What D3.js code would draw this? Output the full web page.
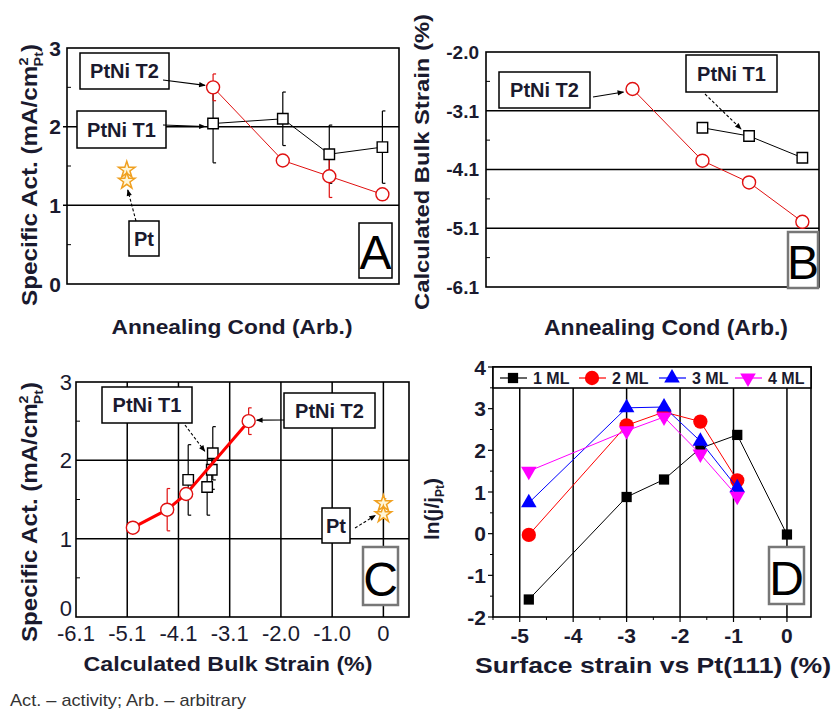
<!DOCTYPE html>
<html>
<head>
<meta charset="utf-8">
<script src="https://cdn.jsdelivr.net/npm/d3@7"></script>
<style>
  body { margin: 0; background: #fff; }
  svg { display: block; font-family: "Liberation Sans", Arial, sans-serif; }
</style>
</head>
<body>
<svg id="fig" width="835" height="711"></svg>
<script>
// ---- data ----
// panels A and B share the annealing-condition axis (arbitrary units)
const annealX = [4.4, 6.5, 7.9, 9.5];
const ptAnnealX = 1.8;
const actT1 = [2.04, 2.10, 1.65, 1.74];
const errT1 = [0.50, 0.34, 0.37, 0.46];
const actT2 = [2.50, 1.57, 1.37, 1.14];
const errT2 = [0.17, 0.00, 0.27, 0.00];
const actPt = [1.45, 1.31];

// panel B (bulk strain, %)
const strainT2 = [-2.73, -3.95, -4.32, -4.99];
const strainT1 = [-3.39, -3.53, -3.90];          // T1 at annealX[1..3]
const bTicks = [-6.1, -5.1, -4.1, -3.1, -2.1];
const bTickLabels = ['-6.1', '-5.1', '-4.1', '-3.1', '-2.0'];

// panel C
const cStrainT1 = [-3.43, -3.45, -3.54, -3.91];
const cActT1 = [2.09, 1.88, 1.66, 1.75];
const cErrT1 = [0.34, 0.25, 0.36, 0.45];
const cStrainPt = -0.1;
const cTicks = [-6.1, -5.1, -4.1, -3.1, -2.1, -1.1, -0.1];
const cTickLabels = ['-6.1', '-5.1', '-4.1', '-3.1', '-2.0', '-1.0', '0'];
const actTicks = [0, 1, 2, 3];

// panel D (surface strain vs ln(j/jPt))
const dStrain = [-4.83, -3.0, -2.3, -1.62, -0.93, 0];
const ml1 = [-1.58, 0.88, 1.30, 2.05, 2.37, -0.02];
const ml2 = [-0.03, 2.60, 2.92, 2.69, 1.28];
const ml3 = [0.74, 3.02, 3.04, 2.22, 1.10];
const ml4 = [1.50, 2.47, 2.80, 1.91, 0.90];
const mlNames = ['1 ML', '2 ML', '3 ML', '4 ML'];
const mlColors = ['#000', '#f00', '#00f', '#f0f'];
const mlSymbols = [d3.symbolSquare, d3.symbolCircle, d3.symbolTriangle, d3.symbolTriangle];
const dxTicks = [-5, -4, -3, -2, -1, 0];
const dyTicks = [-2, -1, 0, 1, 2, 3, 4];

const txt = '#1a1a2e';
const svg = d3.select('#fig');
const defs = svg.append('defs');
defs.append('marker').attr('id', 'arr').attr('viewBox', '0 0 10 10')
  .attr('refX', 9).attr('refY', 5).attr('markerWidth', 7).attr('markerHeight', 6)
  .attr('orient', 'auto')
  .append('path').attr('d', 'M0,1L10,5L0,9z').attr('fill', '#000');

function hline(g, y, x1, x2, w) {
  g.append('line').attr('x1', x1).attr('x2', x2).attr('y1', y).attr('y2', y)
    .attr('stroke', '#000').attr('stroke-width', w || 1.5);
}
function vline(g, x, y1, y2, w) {
  g.append('line').attr('x1', x).attr('x2', x).attr('y1', y1).attr('y2', y2)
    .attr('stroke', '#000').attr('stroke-width', w || 1.5);
}
function frame(g, b) {
  g.append('rect').attr('x', b.l).attr('y', b.t).attr('width', b.r - b.l).attr('height', b.b - b.t)
    .attr('fill', 'none').attr('stroke', '#000').attr('stroke-width', 1.6);
}
function yTicks(g, y, vals, labels, xr, size, weight, shift) {
  g.selectAll(null).data(vals).join('text')
    .attr('x', xr).attr('y', d => y(d) + (shift ? shift(d) : 0)).attr('dy', '0.36em').attr('text-anchor', 'end')
    .attr('fill', txt).style('font-size', size + 'px').style('font-weight', weight)
    .text((d, i) => labels[i]);
}
function minorY(g, y, vals, x0, len) {
  g.selectAll(null).data(vals).join('line')
    .attr('x1', x0).attr('x2', x0 + len).attr('y1', d => y(d)).attr('y2', d => y(d))
    .attr('stroke', '#000').attr('stroke-width', 1);
}
function errBars(g, xs, ys, es, x, y, color) {
  xs.forEach((v, i) => {
    if (!es[i]) return;
    const cx = x(v), y1 = y(ys[i] + es[i]), y2 = y(ys[i] - es[i]);
    g.append('line').attr('x1', cx).attr('x2', cx).attr('y1', y1).attr('y2', y2)
      .attr('stroke', color).attr('stroke-width', 1.2);
    [y1, y2].forEach(yy => g.append('line').attr('x1', cx).attr('x2', cx + 3).attr('y1', yy).attr('y2', yy)
      .attr('stroke', color).attr('stroke-width', 1.2));
  });
}
function series(g, xs, ys, x, y, color, w) {
  g.append('path').datum(xs.map((v, i) => [v, ys[i]]))
    .attr('d', d3.line().x(d => x(d[0])).y(d => y(d[1])))
    .attr('fill', 'none').attr('stroke', color).attr('stroke-width', w || 1);
}
function squares(g, xs, ys, x, y) {
  g.selectAll(null).data(xs.map((v, i) => [v, ys[i]])).join('path')
    .attr('transform', d => `translate(${x(d[0])},${y(d[1])})`)
    .attr('d', d3.symbol(d3.symbolSquare, 110))
    .attr('fill', '#fff').attr('stroke', '#000').attr('stroke-width', 1.4);
}
function circles(g, xs, ys, x, y) {
  g.selectAll(null).data(xs.map((v, i) => [v, ys[i]])).join('circle')
    .attr('cx', d => x(d[0])).attr('cy', d => y(d[1])).attr('r', 6.5)
    .attr('fill', '#fff').attr('stroke', '#e01010').attr('stroke-width', 1.4);
}
function stars(g, xv, ys, x, y) {
  g.selectAll(null).data(ys).join('path')
    .attr('transform', d => `translate(${x(xv)},${y(d)})`)
    .attr('d', d3.symbol(d3.symbolStar, 85))
    .attr('fill', '#fff6d8').attr('stroke', '#f0a020').attr('stroke-width', 1.5);
}
function labelBox(g, text, x0, y0, x1, y1, size) {
  g.append('rect').attr('x', x0).attr('y', y0).attr('width', x1 - x0).attr('height', y1 - y0)
    .attr('fill', '#fff').attr('stroke', '#000').attr('stroke-width', 1.5);
  g.append('text').attr('x', (x0 + x1) / 2).attr('y', (y0 + y1) / 2).attr('dy', '0.36em')
    .attr('text-anchor', 'middle').attr('fill', txt)
    .style('font-size', (size || 20) + 'px').style('font-weight', 'bold').text(text);
}
function letterBox(g, text, x0, y0, x1, y1, stroke) {
  g.append('rect').attr('x', x0).attr('y', y0).attr('width', x1 - x0).attr('height', y1 - y0)
    .attr('fill', '#fff').attr('stroke', stroke).attr('stroke-width', stroke === '#000' ? 1.5 : 2.5);
  g.append('text').attr('x', (x0 + x1) / 2).attr('y', y1 - 9)
    .attr('text-anchor', 'middle').attr('fill', '#000')
    .style('font-size', '48px').text(text);
}
function arrow(g, x1, y1, x2, y2, dash) {
  g.append('line').attr('x1', x1).attr('y1', y1).attr('x2', x2).attr('y2', y2)
    .attr('stroke', '#000').attr('stroke-width', 1.1)
    .attr('stroke-dasharray', dash ? '3,2' : null).attr('marker-end', 'url(#arr)');
}
function actLabel(g, cx, cy, len) {
  const t = g.append('text').attr('transform', `translate(${cx},${cy}) rotate(-90)`)
    .attr('text-anchor', 'middle').attr('fill', txt)
    .attr('textLength', len).attr('lengthAdjust', 'spacingAndGlyphs')
    .style('font-size', '22px').style('font-weight', 'bold');
  t.append('tspan').text('Specific Act. (mA/cm');
  t.append('tspan').attr('dy', -9).style('font-size', '13px').text('2');
  t.append('tspan').attr('dx', -8).attr('dy', 15).style('font-size', '13px').text('Pt');
  t.append('tspan').attr('dy', -6).text(')');
}
function xTitle(g, text, cx, y, size, len) {
  g.append('text').attr('x', cx).attr('y', y).attr('text-anchor', 'middle').attr('fill', txt)
    .attr('textLength', len).attr('lengthAdjust', 'spacingAndGlyphs')
    .style('font-size', size + 'px').style('font-weight', 'bold').text(text);
}

// ---------------- Panel A ----------------
{
  const b = {l: 67, r: 399, t: 48, b: 284};
  const g = svg.append('g');
  const x = d3.scaleLinear().domain([0, 10]).range([b.l, b.r]);
  const y = d3.scaleLinear().domain([0, 3]).range([b.b, b.t]);
  [1, 2].forEach(v => hline(g, y(v), b.l - 4, b.r, 1.5));
  minorY(g, y, [0.5, 1.5, 2.5], b.l, 4);
  frame(g, b);
  yTicks(g, y, actTicks, actTicks.map(String), 61, 21, 'bold');
  actLabel(g, 37, 175, 262);
  xTitle(g, 'Annealing Cond (Arb.)', 232, 334, 21, 241);

  errBars(g, annealX, actT1, errT1, x, y, '#000');
  errBars(g, annealX, actT2, errT2, x, y, '#e01010');
  series(g, annealX, actT1, x, y, '#000', 1);
  series(g, annealX, actT2, x, y, '#e01010', 1);
  squares(g, annealX, actT1, x, y);
  circles(g, annealX, actT2, x, y);
  stars(g, ptAnnealX, actPt, x, y);

  labelBox(g, 'PtNi T2', 80, 53, 169, 89);
  arrow(g, 163, 80, x(annealX[0]) - 8, y(actT2[0]) - 2);
  labelBox(g, 'PtNi T1', 77, 111, 166, 148);
  arrow(g, 163, 125, x(annealX[0]) - 8, y(actT1[0]) + 3);
  labelBox(g, 'Pt', 129, 221, 159, 256);
  arrow(g, 136, 221, x(ptAnnealX) + 1, y(actPt[1]) + 9, true);
  letterBox(g, 'A', 359, 223, 392, 278, '#000');
}

// ---------------- Panel B ----------------
{
  const b = {l: 486, r: 819, t: 52, b: 287};
  const g = svg.append('g');
  const x = d3.scaleLinear().domain([0, 10]).range([b.l, b.r]);
  const y = d3.scaleLinear().domain([-6.1, -2.1]).range([b.b, b.t]);
  [-5.1, -4.1, -3.1].forEach(v => hline(g, y(v), b.l, b.r, 1.5));
  minorY(g, y, [-5.6, -4.6, -3.6, -2.6], b.l, 4);
  frame(g, b);
  yTicks(g, y, bTicks, bTickLabels, 479, 19, 'bold');
  g.append('text').attr('transform', 'translate(429,162) rotate(-90)')
    .attr('text-anchor', 'middle').attr('fill', txt)
    .attr('textLength', 296).attr('lengthAdjust', 'spacingAndGlyphs')
    .style('font-size', '21px').style('font-weight', 'bold').text('Calculated Bulk Strain (%)');
  xTitle(g, 'Annealing Cond (Arb.)', 666, 335, 22, 244);

  const t1x = annealX.slice(1);
  series(g, t1x, strainT1, x, y, '#000', 1);
  series(g, annealX, strainT2, x, y, '#e01010', 1);
  squares(g, t1x, strainT1, x, y);
  circles(g, annealX, strainT2, x, y);

  labelBox(g, 'PtNi T2', 499, 72, 590, 108);
  arrow(g, 593, 97, x(annealX[0]) - 9, y(strainT2[0]) + 3);
  labelBox(g, 'PtNi T1', 686, 55, 777, 92);
  arrow(g, 705, 94, x(t1x[1]) - 8, y(strainT1[1]) - 7, true);
  letterBox(g, 'B', 788, 232, 818, 288, '#777');
}

// ---------------- Panel C ----------------
{
  const b = {l: 76, r: 409, t: 382, b: 617};
  const g = svg.append('g');
  const x = d3.scaleLinear().domain([-6.1, 0.4]).range([b.l, b.r]);
  const y = d3.scaleLinear().domain([0, 3]).range([b.b, b.t]);
  [1, 2].forEach(v => hline(g, y(v), b.l, b.r, 1.5));
  cTicks.slice(1).forEach(v => vline(g, x(v), b.t, b.b, 1.5));
  minorY(g, y, [0.5, 1.5, 2.5], b.l, 4);
  frame(g, b);
  yTicks(g, y, actTicks, actTicks.map(String), 72, 22, 'normal', d => d === 0 ? -9 : 0);
  g.selectAll(null).data(cTicks).join('text')
    .attr('x', d => x(d)).attr('y', 641).attr('text-anchor', 'middle').attr('fill', txt)
    .style('font-size', '22px').text((d, i) => cTickLabels[i]);
  actLabel(g, 37, 512, 260);
  xTitle(g, 'Calculated Bulk Strain (%)', 228, 671, 21, 289);

  errBars(g, cStrainT1, cActT1, cErrT1, x, y, '#000');
  squares(g, cStrainT1, cActT1, x, y);
  errBars(g, strainT2, actT2, errT2, x, y, '#e01010');
  series(g, strainT2, actT2, x, y, '#f00', 3);
  circles(g, strainT2, actT2, x, y);
  errBars(g, [cStrainPt], [actPt[0] - 0.06], [0.12], x, y, '#f0a020');
  stars(g, cStrainPt, actPt, x, y);

  labelBox(g, 'PtNi T1', 102, 387, 192, 423);
  arrow(g, 185, 425, x(cStrainT1[0]) - 8, y(cActT1[0]) - 2, true);
  labelBox(g, 'PtNi T2', 284, 393, 375, 428);
  arrow(g, 284, 420, x(strainT2[0]) + 8, y(actT2[0]) - 1);
  labelBox(g, 'Pt', 322, 508, 350, 543);
  arrow(g, 355, 528, x(cStrainPt) - 8, y(actPt[1]) + 1, true);
  letterBox(g, 'C', 363, 547, 398, 605, '#777');
}

// ---------------- Panel D ----------------
{
  const b = {l: 493, r: 811, t: 367, b: 617};
  const g = svg.append('g');
  const x = d3.scaleLinear().domain([-5.5, 0.45]).range([b.l, b.r]);
  const y = d3.scaleLinear().domain([-2, 4]).range([b.b, b.t]);
  dxTicks.forEach(v => vline(g, x(v), b.t, b.b, 1.5));
  // outward ticks
  dyTicks.forEach(v => hline(g, y(v), b.l - 5, b.l, 1.2));
  d3.range(-1.5, 4, 1).forEach(v => hline(g, y(v), b.l - 3, b.l, 1));
  dxTicks.forEach(v => vline(g, x(v), b.b, b.b + 5, 1.2));
  d3.range(-5.5, 0.5, 1).forEach(v => vline(g, x(v), b.b, b.b + 3, 1));
  frame(g, b);
  yTicks(g, y, dyTicks, dyTicks.map(String), 486, 21, 'bold');
  g.selectAll(null).data(dxTicks).join('text')
    .attr('x', d => x(d)).attr('y', 643).attr('text-anchor', 'middle').attr('fill', txt)
    .style('font-size', '21px').style('font-weight', 'bold').text(d => String(d));
  const yl = g.append('text').attr('transform', 'translate(439,509) rotate(-90)')
    .attr('text-anchor', 'middle').attr('fill', txt)
    .style('font-size', '21px').style('font-weight', 'bold');
  yl.append('tspan').text('ln(j/j');
  yl.append('tspan').attr('dy', 5).style('font-size', '12px').text('Pt');
  yl.append('tspan').attr('dy', -5).text(')');
  xTitle(g, 'Surface strain vs Pt(111) (%)', 653, 673, 22, 356);

  const sets = [ml1, ml2, ml3, ml4];
  sets.forEach((vals, k) => {
    const xs = dStrain.slice(0, vals.length);
    series(g, xs, vals, x, y, mlColors[k], 1);
    g.selectAll(null).data(xs.map((v, i) => [v, vals[i]])).join('path')
      .attr('transform', d => `translate(${x(d[0])},${y(d[1])})` + (k === 3 ? ' rotate(180)' : ''))
      .attr('d', d3.symbol(mlSymbols[k], k === 1 ? 160 : 105))
      .attr('fill', mlColors[k]);
  });

  // legend strip along the top of the frame
  g.append('rect').attr('x', b.l).attr('y', b.t).attr('width', b.r - b.l).attr('height', 21)
    .attr('fill', '#fff').attr('stroke', '#000').attr('stroke-width', 1.6);
  const legX = [513, 592, 672, 748];
  mlNames.forEach((name, k) => {
    const cx = legX[k], cy = 378;
    g.append('line').attr('x1', cx - 13).attr('x2', cx + 14).attr('y1', cy).attr('y2', cy)
      .attr('stroke', mlColors[k]).attr('stroke-width', 1.2);
    g.append('path').attr('transform', `translate(${cx},${cy})` + (k === 3 ? ' rotate(180)' : ''))
      .attr('d', d3.symbol(mlSymbols[k], k === 1 ? 160 : 105)).attr('fill', mlColors[k]);
    g.append('text').attr('x', cx + 20).attr('y', cy).attr('dy', '0.36em').attr('fill', txt)
      .style('font-size', '16px').style('font-weight', 'bold').text(name);
  });
  letterBox(g, 'D', 769, 547, 804, 604, '#777');
}

// caption
svg.append('text').attr('x', 10).attr('y', 706).attr('fill', '#333')
  .attr('textLength', 236).attr('lengthAdjust', 'spacingAndGlyphs')
  .style('font-size', '17px').text('Act. – activity; Arb. – arbitrary');
</script>
</body>
</html>
